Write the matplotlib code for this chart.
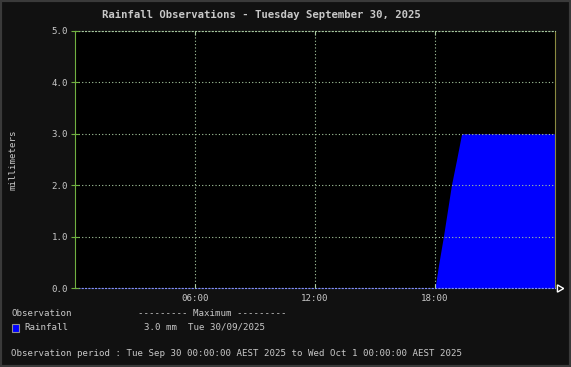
import matplotlib
matplotlib.use("Agg")
import matplotlib.pyplot as plt
from matplotlib.patches import Rectangle

# Data (hours since midnight, cumulative rainfall in mm)
hours = [0.0, 18.0, 18.2, 18.42, 18.62, 18.82, 19.08, 19.33, 24.0]
rain_mm = [0.0, 0.0, 0.5, 1.0, 1.5, 2.0, 2.5, 3.0, 3.0]
x_ticks = [6, 12, 18]
x_tick_labels = ["06:00", "12:00", "18:00"]
y_ticks = [0.0, 1.0, 2.0, 3.0, 4.0, 5.0]
y_tick_labels = ["0.0", "1.0", "2.0", "3.0", "4.0", "5.0"]

W, H = 571, 367
fig = plt.figure(figsize=(W / 100, H / 100), dpi=100)
fig.patch.set_facecolor("#111111")
fig.patches.append(Rectangle((0, 0), 1, 1, transform=fig.transFigure,
                             fill=False, edgecolor="#3a3a3a", linewidth=3))

txt = "#c8c8c8"
mono = "DejaVu Sans Mono"
grid_c = "#a8c8a0"
fs = 6.55

ax = fig.add_axes([75 / W, 1 - 288 / H, 480 / W, 257 / H])
ax.set_facecolor("black")
ax.fill_between(hours, rain_mm, 0, color="#0000ff", linewidth=0)
ax.set_xlim(0, 24)
ax.set_ylim(0, 5)

ax.set_xticks(x_ticks)
ax.set_xticklabels(x_tick_labels, family=mono, fontsize=fs, color=txt)
ax.set_yticks(y_ticks)
ax.set_yticklabels(y_tick_labels, family=mono, fontsize=fs, color=txt)
ax.tick_params(axis="y", direction="inout", length=6, color="#70b040", pad=2)
ax.tick_params(axis="x", direction="in", length=3, color=grid_c, pad=4, top=True)
ax.grid(True, color=grid_c, linestyle=(0, (1, 2)), linewidth=0.8)
ax.set_axisbelow(False)

ax.spines["top"].set_color(grid_c)
ax.spines["top"].set_linestyle((0, (1, 2)))
ax.spines["bottom"].set_color("#8090ff")
ax.spines["bottom"].set_linestyle((0, (1, 2)))
ax.spines["left"].set_color("#70b040")
ax.spines["right"].set_color("#8a8a40")
for s in ax.spines.values():
    s.set_linewidth(0.8)

ax.set_ylabel("millimeters", family=mono, fontsize=fs, color=txt)
ax.yaxis.set_label_coords(-57 / 480, 0.5)

# arrow at end of x-axis
ax.plot([24.2], [0], marker=(3, 0, -90), markersize=6, markerfacecolor="none",
        markeredgecolor="white", clip_on=False, markeredgewidth=1)

fig.text(261 / W, 1 - 15 / H, "Rainfall Observations - Tuesday September 30, 2025",
         ha="center", va="center", family=mono, fontsize=7.7, fontweight="bold", color=txt)

fig.text(11 / W, 1 - 314 / H, "Observation", family=mono, fontsize=fs, color=txt, va="center")
fig.text(138 / W, 1 - 314 / H, "--------- Maximum ---------", family=mono, fontsize=fs, color=txt, va="center")
fig.patches.append(Rectangle((12 / W, 1 - 332 / H), 7 / W, 8 / H, transform=fig.transFigure,
                             facecolor="#0000ff", edgecolor="#909090", linewidth=0.8))
fig.text(24 / W, 1 - 327 / H, "Rainfall", family=mono, fontsize=fs, color=txt, va="center")
fig.text(144 / W, 1 - 327 / H, "3.0 mm  Tue 30/09/2025", family=mono, fontsize=fs, color=txt, va="center")
fig.text(11 / W, 1 - 353 / H,
         "Observation period : Tue Sep 30 00:00:00 AEST 2025 to Wed Oct 1 00:00:00 AEST 2025",
         family=mono, fontsize=fs, color=txt, va="center")

fig.savefig("out.png", dpi=100, facecolor=fig.get_facecolor())
